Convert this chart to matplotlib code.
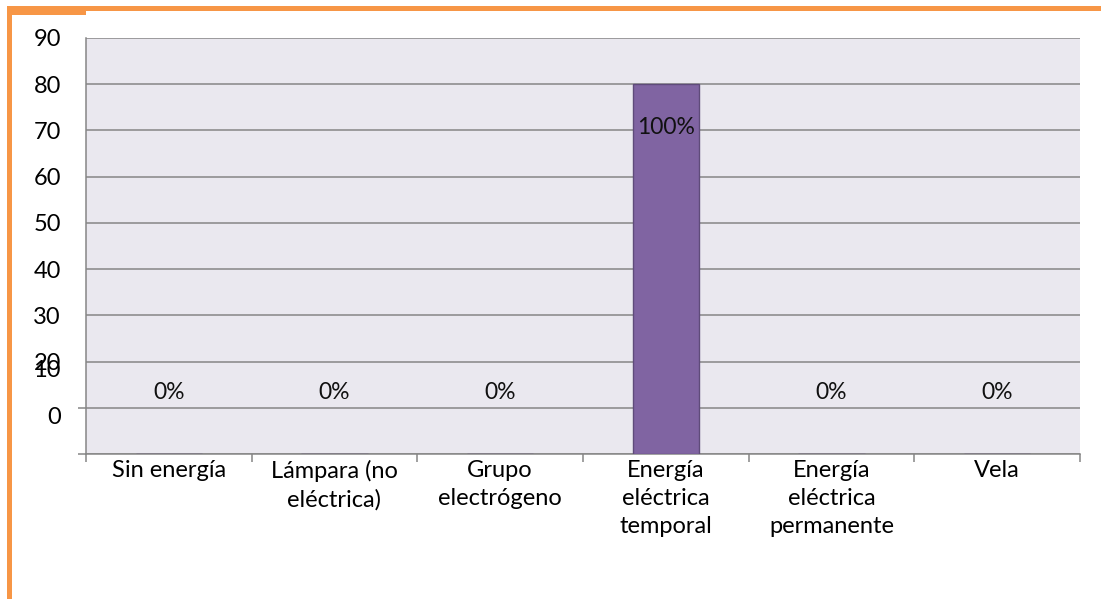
import matplotlib
matplotlib.use('Agg')
import matplotlib.pyplot as plt
from matplotlib.patches import Rectangle

plt.rcParams['font.family'] = ['Lato', 'DejaVu Sans']

categories = ['Sin energía', 'Lámpara (no\neléctrica)', 'Grupo\nelectrógeno',
              'Energía\neléctrica\ntemporal', 'Energía\neléctrica\npermanente', 'Vela']
values = [0, 0, 0, 80, 0, 0]
pct_labels = ['0%', '0%', '0%', '100%', '0%', '0%']
y_ticks = [0, 10, 20, 30, 40, 50, 60, 70, 80, 90]

W, H = 1101, 599
fig = plt.figure(figsize=(W / 100, H / 100), dpi=100)
ax = fig.add_axes([86 / W, (H - 454) / H, 994 / W, (454 - 38) / H])
ax.set_facecolor('#EAE8EF')

x = list(range(len(categories)))
ax.bar(x, values, width=0.4, color='#8064A2', edgecolor='#5F4B7A', linewidth=1, zorder=3)

for xi, v, lab in zip(x, values, pct_labels):
    yl = v - 9.4 if v > 0 else 13.4
    ax.text(xi, yl, lab, ha='center', va='center', fontsize=16.5, color='#111111', zorder=4)

ax.set_xlim(-0.5, len(categories) - 0.5)
ax.set_ylim(0, 90)
ax.set_yticks(y_ticks)
# the 0 and 10 labels sit out of place in the original, drawn separately below
shifted = {0: 26.5, 10: 26.5}
ax.set_yticklabels(['' if t in shifted else str(t) for t in y_ticks], fontsize=17)
ax.tick_params(axis='y', length=0, pad=18)
for t, dy in shifted.items():
    ax.annotate(str(t), xy=(0, t), xycoords=('axes fraction', 'data'),
                xytext=(-18, dy), textcoords='offset points',
                ha='right', va='center', fontsize=17)
ax.yaxis.remove_overlapping_locs = False
ax.set_yticks([0, 10], minor=True)
ax.tick_params(axis='y', which='minor', length=6, width=1.1, color='#868686', left=True)

ax.set_xticks([i - 0.5 for i in range(len(categories) + 1)])
ax.set_xticklabels([])
ax.tick_params(axis='x', length=6, width=1.1, color='#868686')
ax.set_xticks(x, minor=True)
ax.set_xticklabels(categories, minor=True, fontsize=17, linespacing=1.42, va='top')
ax.tick_params(axis='x', which='minor', length=0, pad=4)

ax.grid(axis='y', color='#868686', linewidth=1.1, zorder=0)
ax.set_axisbelow(True)
for s in ['top', 'right']:
    ax.spines[s].set_visible(False)
for s in ['left', 'bottom']:
    ax.spines[s].set_color('#868686')
    ax.spines[s].set_linewidth(1.1)

# orange frame
orange = '#F79646'
fig.add_artist(Rectangle((7 / W, (H - 11) / H), (W - 7) / W, 5 / H, transform=fig.transFigure,
                         color=orange, lw=0))
fig.add_artist(Rectangle((7 / W, (H - 15) / H), (86 - 7) / W, 9 / H, transform=fig.transFigure,
                         color=orange, lw=0))
fig.add_artist(Rectangle((7 / W, 0), 5 / W, (H - 6) / H, transform=fig.transFigure,
                         color=orange, lw=0))

fig.savefig('out.png', dpi=100, facecolor='white')
